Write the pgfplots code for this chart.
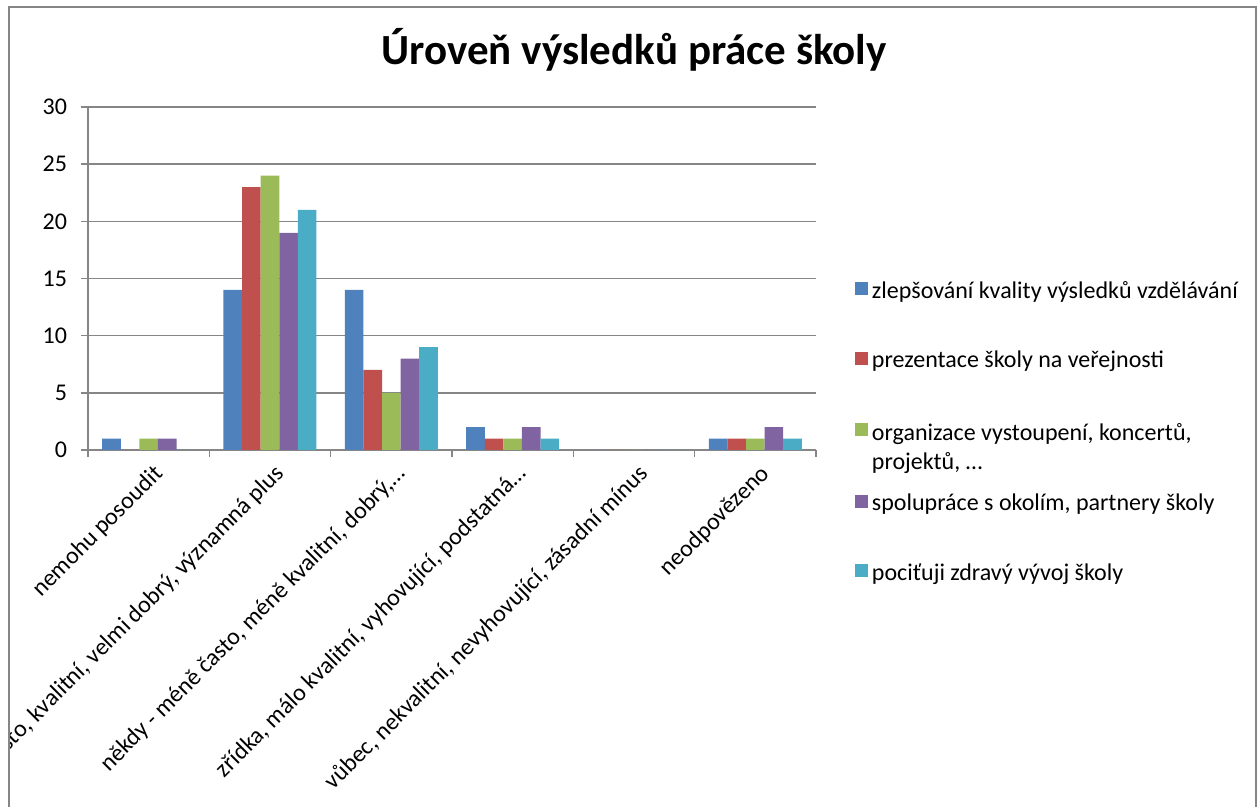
\documentclass[border=0pt]{standalone}
\usepackage{pgfplots}
\pgfplotsset{compat=1.18}
\usepackage{fontspec}
\setmainfont{Carlito}
\definecolor{s1}{HTML}{4F81BD}
\definecolor{s2}{HTML}{C0504D}
\definecolor{s3}{HTML}{9BBB59}
\definecolor{s4}{HTML}{8064A2}
\definecolor{s5}{HTML}{4BACC6}
\definecolor{axisgray}{HTML}{868686}
\newcommand{\lbl}{\fontsize{12}{14.4}\selectfont}

\begin{document}
\begin{tikzpicture}[x=0.5pt,y=0.5pt]
\useasboundingbox (0,0) rectangle (1260,807);
\begin{scope}
\clip (10,0) rectangle (1255,799);
\begin{axis}[
    at={(44pt,178.5pt)}, anchor=south west,
    scale only axis, width=364pt, height=171.5pt,
    ybar=0pt, bar width=9.3pt,
    xmin=0, xmax=6, ymin=0, ymax=30,
    ytick={0,5,...,30},
    xtick={0,1,...,6}, xticklabels={},
    extra x ticks={0.5,1.5,...,5.5},
    extra x tick labels={nemohu posoudit,
        {často, kvalitní, velmi dobrý, významná plus},
        {někdy - méně často, méně kvalitní, dobrý,…},
        {zřídka, málo kvalitní, vyhovující, podstatná…},
        {vůbec, nekvalitní, nevyhovující, zásadní mínus},
        neodpovězeno},
    extra x tick style={major tick length=0pt, grid=none,
        tick label style={rotate=45, anchor=east, font=\lbl, yshift=-11pt, xshift=0pt}},
    axis x line*=bottom, axis y line*=left,
    axis line style={axisgray, line width=0.7pt, -},
    tick align=outside, major tick length=3.5pt,
    tick style={axisgray, line width=0.7pt},
    ymajorgrids, grid style={axisgray, line width=0.7pt},
    yticklabel style={font=\lbl, xshift=-3.5pt},
    /pgf/number format/assume math mode=true,
    legend style={at={(1.053,0.052)}, anchor=west, draw=none, fill=none,
        font=\lbl, row sep=21pt, inner sep=0pt},
    legend cell align=left,
    legend image code/.code={\fill[#1] (0pt,-2pt) rectangle (6.5pt,4.5pt);},
]
\addplot[fill=s1, draw=none] coordinates {(0.5,1) (1.5,14) (2.5,14) (3.5,2) (4.5,0) (5.5,1)};
\addplot[fill=s2, draw=none] coordinates {(0.5,0) (1.5,23) (2.5,7) (3.5,1) (4.5,0) (5.5,1)};
\addplot[fill=s3, draw=none] coordinates {(0.5,1) (1.5,24) (2.5,5) (3.5,1) (4.5,0) (5.5,1)};
\addplot[fill=s4, draw=none] coordinates {(0.5,1) (1.5,19) (2.5,8) (3.5,2) (4.5,0) (5.5,2)};
\addplot[fill=s5, draw=none] coordinates {(0.5,0) (1.5,21) (2.5,9) (3.5,1) (4.5,0) (5.5,1)};
\legend{zlepšování kvality výsledků vzdělávání,
    prezentace školy na veřejnosti,
    {\raisebox{0pt}[\height][0pt]{\begin{tabular}[t]{@{}l@{}}organizace vystoupení, koncertů,\\projektů, …\end{tabular}}},
    {spolupráce s okolím, partnery školy},
    pociťuji zdravý vývoj školy}
\end{axis}
\end{scope}
\node[font=\fontsize{21.5}{26}\selectfont\bfseries, anchor=base] at (634,742) {Úroveň výsledků práce školy};
\draw[axisgray, line width=1.2pt] (9,-20) -- (9,800) -- (1256,800) -- (1256,-20);
\end{tikzpicture}
\end{document}
